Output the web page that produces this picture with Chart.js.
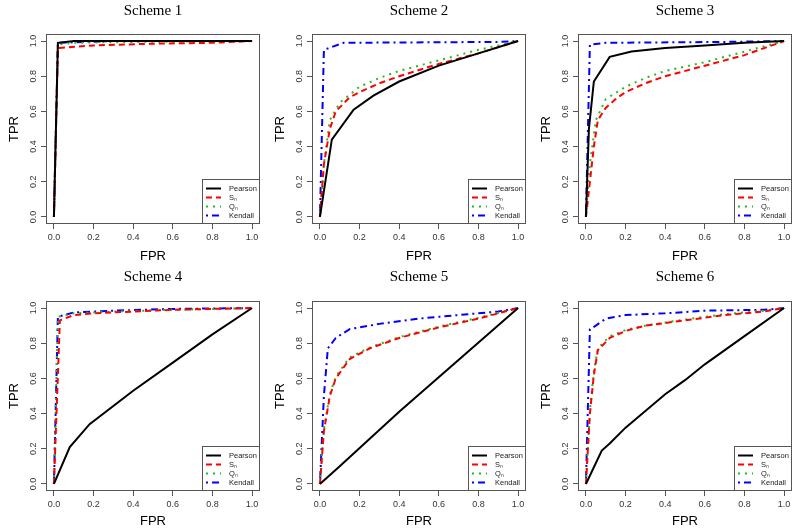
<!DOCTYPE html>
<html>
<head>
<meta charset="utf-8">
<script src="https://cdn.jsdelivr.net/npm/chart.js@4.4.1/dist/chart.umd.min.js"></script>
<style>
  body { margin: 0; background: #fff; width: 800px; height: 529px; position: relative; overflow: hidden; }
  canvas { position: absolute; }
</style>
</head>
<body>
<canvas id="s1" width="266" height="264" style="left:0;top:0"></canvas>
<canvas id="s2" width="266" height="264" style="left:266px;top:0"></canvas>
<canvas id="s3" width="266" height="264" style="left:532px;top:0"></canvas>
<canvas id="s4" width="266" height="265" style="left:0;top:264px"></canvas>
<canvas id="s5" width="266" height="265" style="left:266px;top:264px"></canvas>
<canvas id="s6" width="266" height="265" style="left:532px;top:264px"></canvas>
<script>
const methods = ['Pearson', 'Sₙ', 'Qₙ', 'Kendall'];
const tickVals = [0, 0.2, 0.4, 0.6, 0.8, 1.0];

// [FPR, TPR] points
const s1Pearson = [[0, 0], [0.02, 0.99], [0.1, 1.0], [1, 1]];
const s1Sn = [[0, 0], [0.02, 0.96], [0.2, 0.975], [0.5, 0.985], [0.8, 0.99], [1, 1]];
const s1Qn = [[0, 0], [0.02, 0.98], [0.1, 0.99], [0.4, 0.995], [1, 1]];
const s1Kendall = [[0, 0], [0.02, 0.99], [0.3, 1.0], [1, 1]];

const s2Pearson = [[0, 0], [0.06, 0.44], [0.17, 0.61], [0.27, 0.69], [0.4, 0.77], [0.6, 0.86], [0.8, 0.93], [1, 1]];
const s2Sn = [[0, 0], [0.02, 0.3], [0.05, 0.5], [0.08, 0.6], [0.15, 0.68], [0.2, 0.71], [0.3, 0.76], [0.4, 0.8], [0.6, 0.87], [0.8, 0.93], [1, 1]];
const s2Qn = [[0, 0], [0.02, 0.3], [0.05, 0.55], [0.1, 0.65], [0.2, 0.74], [0.3, 0.79], [0.4, 0.83], [0.6, 0.89], [0.8, 0.95], [1, 1]];
const s2Kendall = [[0, 0], [0.02, 0.95], [0.12, 0.99], [0.9, 0.995], [1, 1]];

const s3Pearson = [[0, 0], [0.015, 0.5], [0.04, 0.77], [0.12, 0.91], [0.23, 0.94], [0.4, 0.96], [0.6, 0.975], [0.8, 0.99], [1, 1]];
const s3Sn = [[0, 0], [0.02, 0.2], [0.04, 0.4], [0.06, 0.55], [0.1, 0.62], [0.15, 0.67], [0.2, 0.71], [0.3, 0.76], [0.4, 0.8], [0.6, 0.86], [0.8, 0.92], [0.9, 0.96], [1, 1]];
const s3Qn = [[0, 0], [0.02, 0.3], [0.05, 0.55], [0.1, 0.67], [0.2, 0.74], [0.3, 0.79], [0.4, 0.83], [0.6, 0.88], [0.8, 0.94], [1, 1]];
const s3Kendall = [[0, 0], [0.02, 0.98], [0.1, 0.99], [0.7, 0.995], [1, 1]];

const s4Pearson = [[0, 0], [0.08, 0.21], [0.18, 0.34], [0.4, 0.53], [0.6, 0.69], [0.8, 0.85], [1, 1]];
const s4Sn = [[0, 0], [0.03, 0.93], [0.1, 0.96], [0.2, 0.97], [0.4, 0.98], [0.6, 0.99], [1, 1]];
const s4Qn = [[0, 0], [0.02, 0.95], [0.1, 0.97], [0.3, 0.98], [0.6, 0.99], [1, 1]];
const s4Kendall = [[0, 0], [0.02, 0.95], [0.1, 0.975], [0.3, 0.985], [0.6, 0.995], [1, 1]];

const s5Pearson = [[0, 0], [0.1, 0.1], [0.4, 0.41], [1, 1]];
const s5Sn = [[0, 0], [0.02, 0.3], [0.05, 0.5], [0.08, 0.6], [0.15, 0.71], [0.25, 0.77], [0.4, 0.83], [0.6, 0.89], [0.8, 0.94], [1, 1]];
const s5Qn = [[0, 0], [0.02, 0.31], [0.05, 0.51], [0.08, 0.61], [0.15, 0.72], [0.25, 0.775], [0.4, 0.835], [0.6, 0.895], [0.8, 0.945], [1, 1]];
const s5Kendall = [[0, 0], [0.02, 0.5], [0.04, 0.77], [0.08, 0.83], [0.15, 0.88], [0.3, 0.91], [0.5, 0.94], [0.7, 0.96], [0.9, 0.98], [1, 1]];

const s6Pearson = [[0, 0], [0.08, 0.19], [0.12, 0.23], [0.2, 0.32], [0.4, 0.51], [0.5, 0.59], [0.6, 0.68], [0.8, 0.84], [1, 1]];
const s6Sn = [[0, 0], [0.02, 0.4], [0.04, 0.62], [0.06, 0.76], [0.12, 0.83], [0.2, 0.87], [0.3, 0.9], [0.5, 0.93], [0.7, 0.96], [0.9, 0.98], [1, 1]];
const s6Qn = [[0, 0], [0.02, 0.42], [0.04, 0.64], [0.06, 0.77], [0.12, 0.84], [0.2, 0.875], [0.3, 0.9], [0.5, 0.935], [0.7, 0.965], [0.9, 0.985], [1, 1]];
const s6Kendall = [[0, 0], [0.02, 0.88], [0.05, 0.9], [0.1, 0.94], [0.2, 0.96], [0.4, 0.97], [0.6, 0.985], [0.9, 0.99], [1, 1]];

const lineColors = ['#000000', '#ff0000', '#22bb22', '#0000ff'];
const lineDashes = [[], [6, 4], [2, 5], [2, 4, 7, 4]];

// R-style frame around the plot region
const boxPlugin = {
  id: 'box',
  afterDraw(chart) {
    const a = chart.chartArea, c = chart.ctx;
    c.save();
    c.strokeStyle = '#555';
    c.lineWidth = 1;
    c.strokeRect(Math.round(a.left) + 0.5, Math.round(a.top) + 0.5,
      Math.round(a.right - a.left) - 1, Math.round(a.bottom - a.top) - 1);
    c.restore();
  }
};

// legend box in the bottom-right corner
const cornerLegend = {
  id: 'cornerLegend',
  afterDatasetsDraw(chart) {
    const a = chart.chartArea, c = chart.ctx;
    const w = 58, h = 45;
    const x0 = Math.round(a.right) - w, y0 = Math.round(a.bottom) - h;
    c.save();
    c.fillStyle = '#fff';
    c.fillRect(x0, y0, w, h);
    c.strokeStyle = '#555';
    c.lineWidth = 1;
    c.strokeRect(x0 + 0.5, y0 + 0.5, w - 1, h - 1);
    c.font = '7.5px "Liberation Sans", Arial, sans-serif';
    c.textBaseline = 'middle';
    chart.data.datasets.forEach((ds, i) => {
      const y = y0 + 9.5 + i * 9;
      c.strokeStyle = ds.borderColor;
      c.lineWidth = 2;
      c.setLineDash(ds.borderDash);
      c.beginPath();
      c.moveTo(x0 + 4, y);
      c.lineTo(x0 + 19, y);
      c.stroke();
      c.setLineDash([]);
      c.fillStyle = '#222';
      c.fillText(ds.label, x0 + 27, y + 0.5);
    });
    c.restore();
  }
};

function axis(title, isY, size) {
  return {
    type: 'linear',
    min: -0.04,
    max: 1.04,
    afterBuildTicks: s => { s.ticks = tickVals.map(v => ({ value: v })); },
    afterFit: s => {
      if (isY) { s.width = size; s.paddingTop = 0; s.paddingBottom = 0; }
      else { s.height = size; s.paddingLeft = 0; s.paddingRight = 0; }
    },
    ticks: {
      callback: v => v.toFixed(1),
      font: { family: 'Liberation Sans', size: 9 },
      color: '#333',
      padding: isY ? 1 : 9,
      autoSkip: false,
      minRotation: isY ? 90 : 0,
      maxRotation: isY ? 90 : 0,
      crossAlign: 'center'
    },
    grid: { drawOnChartArea: false, tickLength: 5, color: '#555' },
    border: { display: false },
    title: {
      display: true,
      text: title,
      color: '#000',
      font: { family: 'Liberation Sans', size: 13 },
      padding: isY ? { top: 7, bottom: 0 } : { top: 0, bottom: 0 }
    }
  };
}

function makeChart(id, title, series, titlePad, xHeight) {
  new Chart(document.getElementById(id), {
    type: 'line',
    data: {
      datasets: series.map((pts, i) => ({
        label: methods[i],
        data: pts.map(p => ({ x: p[0], y: p[1] })),
        borderColor: lineColors[i],
        borderDash: lineDashes[i],
        borderWidth: 2,
        pointRadius: 0,
        fill: false,
        tension: 0
      }))
    },
    options: {
      responsive: false,
      animation: false,
      layout: { padding: { left: 0, right: 6, top: 0, bottom: 0 } },
      plugins: {
        legend: { display: false },
        tooltip: { enabled: false },
        title: {
          display: true,
          text: title,
          fullSize: false,
          color: '#000',
          font: { family: 'Liberation Serif', size: 15, weight: 'normal' },
          padding: titlePad
        }
      },
      scales: {
        x: axis('FPR', false, xHeight),
        y: axis('TPR', true, 46)
      }
    },
    plugins: [boxPlugin, cornerLegend]
  });
}

makeChart('s1', 'Scheme 1', [s1Pearson, s1Sn, s1Qn, s1Kendall], { top: 2, bottom: 14 }, 40);
makeChart('s2', 'Scheme 2', [s2Pearson, s2Sn, s2Qn, s2Kendall], { top: 2, bottom: 14 }, 40);
makeChart('s3', 'Scheme 3', [s3Pearson, s3Sn, s3Qn, s3Kendall], { top: 2, bottom: 14 }, 40);
makeChart('s4', 'Scheme 4', [s4Pearson, s4Sn, s4Qn, s4Kendall], { top: 4, bottom: 15 }, 38);
makeChart('s5', 'Scheme 5', [s5Pearson, s5Sn, s5Qn, s5Kendall], { top: 4, bottom: 15 }, 38);
makeChart('s6', 'Scheme 6', [s6Pearson, s6Sn, s6Qn, s6Kendall], { top: 4, bottom: 15 }, 38);
</script>
</body>
</html>
